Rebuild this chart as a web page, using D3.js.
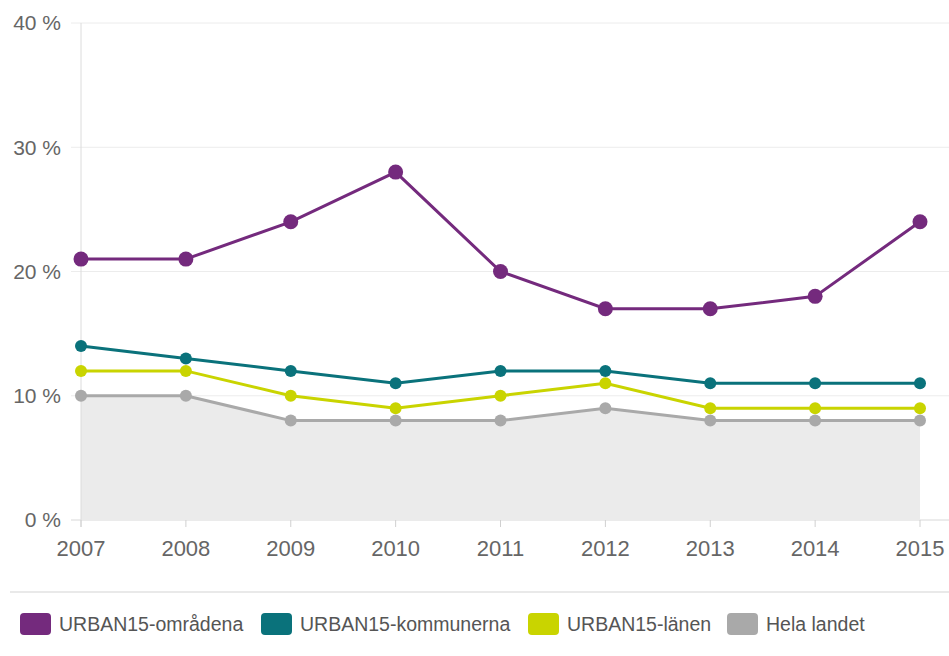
<!DOCTYPE html>
<html>
<head>
<meta charset="utf-8">
<script src="https://cdn.jsdelivr.net/npm/d3@7"></script>
<style>
  body { margin: 0; background: #fff; }
  svg { display: block; font-family: "Liberation Sans", Arial, sans-serif; }
</style>
</head>
<body>
<svg id="chart"></svg>
<script>
const width = 949;
const height = 656;
const margin = { top: 23, right: 0, bottom: 136, left: 81 };

// Data
const years = [2007, 2008, 2009, 2010, 2011, 2012, 2013, 2014, 2015];
const omradena = [21, 21, 24, 28, 20, 17, 17, 18, 24];
const kommunerna = [14, 13, 12, 11, 12, 12, 11, 11, 11];
const lanen = [12, 12, 10, 9, 10, 11, 9, 9, 9];
const helaLandet = [10, 10, 8, 8, 8, 9, 8, 8, 8];
const yTicks = [0, 10, 20, 30, 40];

const seriesNames = ["URBAN15-områdena", "URBAN15-kommunerna", "URBAN15-länen", "Hela landet"];
const seriesValues = [omradena, kommunerna, lanen, helaLandet];
const colors = ["#742a7d", "#0a727b", "#c9d400", "#a9a9a9"];

const svg = d3.select("#chart")
    .attr("width", width)
    .attr("height", height);

const x = d3.scaleLinear()
    .domain([2007, 2015])
    .range([margin.left, 920]);

const y = d3.scaleLinear()
    .domain([0, 40])
    .range([height - margin.bottom, margin.top]);

// Gridlines
svg.append("g")
    .selectAll("line")
    .data(yTicks)
    .enter().append("line")
    .attr("x1", 71)
    .attr("x2", width)
    .attr("y1", d => y(d))
    .attr("y2", d => y(d))
    .attr("stroke", d => d === 0 ? "#d8d8d8" : "#ececec")
    .attr("stroke-width", 1);

// Y labels
svg.append("g")
    .selectAll("text")
    .data(yTicks)
    .enter().append("text")
    .attr("x", 61)
    .attr("y", d => y(d))
    .attr("dy", "0.35em")
    .attr("text-anchor", "end")
    .style("font-size", "21px")
    .style("fill", "#666")
    .text(d => d + " %");

// Area under Hela landet
const area = d3.area()
    .x((d, i) => x(years[i]))
    .y0(y(0))
    .y1(d => y(d));

svg.append("path")
    .datum(helaLandet)
    .attr("d", area)
    .attr("fill", "#ebebeb");

// Y axis line
svg.append("line")
    .attr("x1", margin.left)
    .attr("x2", margin.left)
    .attr("y1", margin.top)
    .attr("y2", y(0) + 7)
    .attr("stroke", "#dcdcdc");

// X ticks and labels
const xg = svg.append("g");
xg.selectAll("line")
    .data(years)
    .enter().append("line")
    .attr("x1", d => x(d))
    .attr("x2", d => x(d))
    .attr("y1", y(0))
    .attr("y2", y(0) + 7)
    .attr("stroke", "#d0d0d0");

xg.selectAll("text")
    .data(years)
    .enter().append("text")
    .attr("x", d => x(d))
    .attr("y", 556)
    .attr("text-anchor", "middle")
    .style("font-size", "22px")
    .style("fill", "#666")
    .text(d => d);

// Lines and markers (draw back to front)
const line = d3.line()
    .x((d, i) => x(years[i]))
    .y(d => y(d));

for (let s = seriesValues.length - 1; s >= 0; s--) {
    const g = svg.append("g");
    g.append("path")
        .datum(seriesValues[s])
        .attr("d", line)
        .attr("fill", "none")
        .attr("stroke", colors[s])
        .attr("stroke-width", 3);
    g.selectAll("circle")
        .data(seriesValues[s])
        .enter().append("circle")
        .attr("cx", (d, i) => x(years[i]))
        .attr("cy", d => y(d))
        .attr("r", s === 0 ? 7.5 : 6)
        .attr("fill", colors[s]);
}

// Separator
svg.append("line")
    .attr("x1", 10)
    .attr("x2", width)
    .attr("y1", 592)
    .attr("y2", 592)
    .attr("stroke", "#e2e2e2")
    .attr("stroke-width", 1.5);

// Legend
const legendX = [20, 261, 528, 727];
const legend = svg.append("g");
seriesNames.forEach((name, i) => {
    legend.append("rect")
        .attr("x", legendX[i])
        .attr("y", 613)
        .attr("width", 31)
        .attr("height", 22)
        .attr("rx", 4)
        .attr("fill", colors[i]);
    legend.append("text")
        .attr("x", legendX[i] + 39)
        .attr("y", 624)
        .attr("dy", "0.35em")
        .style("font-size", "19.5px")
        .style("fill", "#555")
        .text(name);
});
</script>
</body>
</html>
